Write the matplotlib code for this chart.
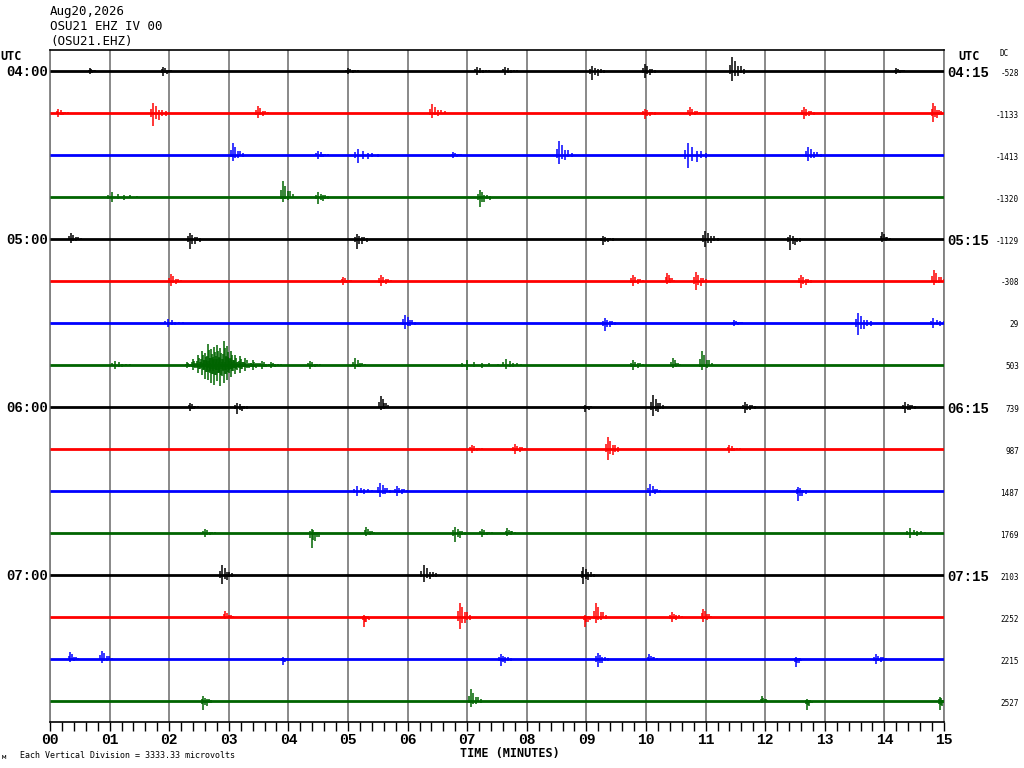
import numpy as np
import matplotlib
matplotlib.use('Agg')
import matplotlib.pyplot as plt
from matplotlib.ticker import MultipleLocator

# helicorder: 16 lines of 15 minutes each
line_colors = ['black', 'red', 'blue', '#006400']
hour_rows = [0, 4, 8, 12]
left_labels = ['04:00', '05:00', '06:00', '07:00']
right_labels = ['04:15', '05:15', '06:15', '07:15']
dc_values = [-528, -1133, -1413, -1320, -1129, -308, 29, 503,
             739, 987, 1487, 1769, 2103, 2252, 2215, 2527]
minute_labels = ['%02d' % m for m in range(16)]

# events per line: (minute, up px, down px, duration in minutes)
events = [
    [(0.67, 3, 3, 0.1), (1.9, 4, 5, 0.15), (5.0, 3, 3, 0.2), (7.16, 4, 4, 0.25), (7.63, 4, 4, 0.25),
     (9.09, 5, 9, 0.25), (9.98, 7, 7, 0.2), (11.44, 14, 10, 0.25), (14.2, 3, 3, 0.15)],
    [(0.14, 4, 4, 0.2), (1.73, 10, 13, 0.25), (3.49, 7, 5, 0.2), (6.41, 9, 5, 0.25), (9.98, 4, 6, 0.2),
     (10.74, 6, 3, 0.2), (12.65, 6, 6, 0.2), (14.82, 10, 9, 0.15)],
    [(3.07, 12, 6, 0.2), (4.5, 4, 4, 0.2), (5.17, 6, 8, 0.4), (6.77, 3, 3, 0.15), (8.54, 14, 9, 0.25),
     (10.71, 12, 13, 0.35), (12.72, 8, 6, 0.25)],
    [(1.04, 5, 5, 0.5), (3.91, 16, 5, 0.2), (4.5, 5, 7, 0.2), (7.21, 7, 10, 0.2)],
    [(0.35, 6, 4, 0.2), (2.35, 6, 10, 0.2), (5.15, 5, 10, 0.2), (9.28, 3, 6, 0.2), (10.99, 8, 8, 0.25),
     (12.42, 4, 11, 0.2), (13.96, 7, 3, 0.15)],
    [(2.03, 7, 5, 0.2), (4.92, 4, 4, 0.15), (5.55, 6, 5, 0.2), (9.78, 6, 5, 0.2), (10.35, 8, 3, 0.15),
     (10.84, 9, 9, 0.2), (12.6, 6, 7, 0.2), (14.83, 11, 4, 0.2)],
    [(1.98, 4, 4, 0.3), (5.96, 8, 6, 0.2), (9.31, 5, 8, 0.2), (11.48, 3, 3, 0.15), (13.56, 10, 12, 0.25),
     (14.82, 5, 5, 0.3)],
    [(1.09, 4, 4, 0.3), (2.30, 3, 3, 0.1), (2.40, 6, 5, 0.1), (2.48, 10, 8, 0.1), (2.55, 14, 10, 0.1),
     (2.60, 12, 14, 0.1), (2.65, 21, 15, 0.1), (2.70, 16, 18, 0.1), (2.75, 18, 20, 0.1), (2.80, 20, 16, 0.1),
     (2.85, 17, 21, 0.1), (2.92, 24, 18, 0.1), (2.97, 19, 15, 0.1), (3.03, 14, 12, 0.1), (3.10, 10, 9, 0.1),
     (3.18, 9, 8, 0.1), (3.28, 7, 6, 0.15), (3.40, 5, 5, 0.15), (3.55, 4, 4, 0.2), (3.70, 3, 3, 0.2),
     (4.36, 4, 4, 0.2), (5.12, 7, 4, 0.2), (7.0, 5, 5, 0.6), (7.65, 6, 4, 0.3), (9.78, 5, 5, 0.2),
     (10.45, 7, 3, 0.15), (10.94, 14, 5, 0.2)],
    [(2.35, 4, 4, 0.15), (3.14, 4, 7, 0.2), (5.55, 11, 3, 0.15), (8.98, 2, 5, 0.15), (10.12, 12, 9, 0.2),
     (11.66, 5, 6, 0.2), (14.35, 5, 6, 0.2)],
    [(7.08, 4, 4, 0.2), (7.8, 5, 5, 0.2), (9.36, 12, 11, 0.2), (11.4, 4, 4, 0.2)],
    [(5.15, 5, 5, 0.3), (5.54, 8, 6, 0.2), (5.82, 5, 5, 0.2), (10.07, 7, 5, 0.2), (12.55, 4, 10, 0.15)],
    [(2.6, 4, 4, 0.2), (4.39, 4, 15, 0.15), (5.31, 6, 3, 0.15), (6.8, 6, 9, 0.2), (7.25, 4, 4, 0.2),
     (7.67, 5, 3, 0.15), (14.43, 5, 5, 0.3)],
    [(2.89, 10, 9, 0.2), (6.27, 10, 7, 0.25), (8.95, 8, 9, 0.2)],
    [(2.94, 6, 2, 0.15), (5.27, 2, 10, 0.1), (6.88, 14, 12, 0.2), (8.98, 2, 10, 0.1), (9.16, 14, 6, 0.2),
     (10.43, 5, 5, 0.2), (10.96, 8, 5, 0.15)],
    [(0.34, 7, 3, 0.15), (0.87, 8, 4, 0.2), (3.91, 2, 6, 0.1), (7.56, 5, 7, 0.2), (9.19, 6, 8, 0.2),
     (10.05, 5, 2, 0.15), (12.52, 2, 8, 0.1), (13.86, 5, 5, 0.2)],
    [(2.57, 5, 9, 0.15), (7.06, 12, 6, 0.2), (11.95, 5, 2, 0.1), (12.7, 2, 9, 0.1), (14.93, 4, 9, 0.1)],
]

ROW_PX = 42.0
# spike pattern of one burst: (offset as fraction of duration, amplitude share)
burst_shape = [(-0.15, 0.45), (0.0, 1.0), (0.2, 0.7), (0.4, 0.5), (0.6, 0.35), (0.85, 0.25)]

fig = plt.figure(figsize=(10.24, 7.68), dpi=100)
ax = fig.add_axes([50 / 1024, 46 / 768, 894 / 1024, 672 / 768])


def px(x, y):
    return x / 1024, 1 - y / 768


for i, evs in enumerate(events):
    c = line_colors[i % 4]
    ax.hlines(-i, 0, 15, color=c, lw=2.0, zorder=3)
    for t, up, dn, w in evs:
        u, d = up / ROW_PX, dn / ROW_PX
        for k, (off, share) in enumerate(burst_shape):
            # alternate which side is the big one, like a real wiggle
            su = share if k % 2 == 0 else share * 0.7
            sd = share * 0.7 if k % 2 == 0 else share
            if off == 0.0:
                su = sd = 1.0
            ax.vlines(t + off * w, -i - d * sd, -i + u * su, color=c, lw=1.1, zorder=4)

ax.set_xlim(0, 15)
ax.set_ylim(-15.5, 0.5)
ax.set_yticks([])
ax.xaxis.set_minor_locator(MultipleLocator(0.2))
ax.set_xticks(range(16))
ax.set_xticklabels(minute_labels, fontfamily='Liberation Mono', fontweight='bold', fontsize=10.5)
ax.tick_params(axis='x', which='both', direction='out', length=6.5, width=1, color='black', pad=1.5)
ax.grid(axis='x', which='major', color='#808080', lw=1.3, zorder=1)
for s in ['top', 'bottom']:
    ax.spines[s].set_color('black')
    ax.spines[s].set_linewidth(1.2)
for s in ['left', 'right']:
    ax.spines[s].set_color('#808080')
    ax.spines[s].set_linewidth(1.3)

mono = 'DejaVu Sans Mono'
fig.text(*px(50, 12), 'Aug20,2026', fontfamily=mono, fontsize=9, va='center')
fig.text(*px(50, 27), 'OSU21 EHZ IV 00', fontfamily=mono, fontsize=9, va='center')
fig.text(*px(50, 41), '(OSU21.EHZ)', fontfamily=mono, fontsize=9, va='center')
fig.text(*px(0, 56), 'UTC', fontfamily=mono, fontweight='bold', fontsize=8.5, va='center')
fig.text(*px(958, 56), 'UTC', fontfamily=mono, fontweight='bold', fontsize=8.5, va='center')
fig.text(*px(1000, 54), 'DC', fontfamily=mono, fontsize=5.5, va='center')

for r, lab_l, lab_r in zip(hour_rows, left_labels, right_labels):
    y = 71 + ROW_PX * r
    fig.text(*px(48, y + 1), lab_l, fontfamily='Liberation Mono', fontweight='bold',
             fontsize=10, ha='right', va='center')
    fig.text(*px(947, y + 2), lab_r, fontfamily='Liberation Mono', fontweight='bold',
             fontsize=10, ha='left', va='center')

for i, v in enumerate(dc_values):
    fig.text(*px(1019, 73 + ROW_PX * i), str(v), fontfamily=mono, fontsize=5.5,
             ha='right', va='center')

fig.text(*px(510, 754), 'TIME (MINUTES)', fontfamily=mono, fontweight='bold', fontsize=8.5,
         ha='center', va='center')
fig.text(*px(20, 755), 'Each Vertical Division = 3333.33 microvolts', fontfamily=mono,
         fontsize=6, va='center')
fig.text(*px(2, 757), 'м', fontfamily=mono, fontsize=5, va='center')

fig.savefig('out.png', dpi=100)
